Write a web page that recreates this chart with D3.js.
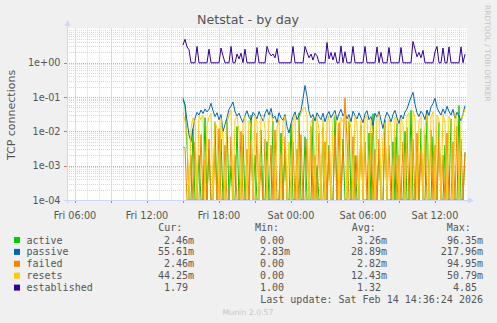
<!DOCTYPE html>
<html><head><meta charset="utf-8">
<script src="https://cdn.jsdelivr.net/npm/d3@7"></script>
<style>
html,body{margin:0;padding:0;background:#F0F0F0;}
svg{display:block;}
text{font-family:"DejaVu Sans",sans-serif;fill:#555;}
.mono{font-family:"DejaVu Sans Mono",monospace;}
</style></head><body>
<svg id="c" width="497" height="323"></svg>
<script>
// ---- data ----
const seriesNames = ["active", "passive", "failed", "resets", "established"];
const seriesColors = ["#00CC00", "#0066B3", "#FF8000", "#FFCC00", "#330099"];
const startTime = new Date(2026, 1, 13, 15, 0); // first sample, Fri 15:00
const stepMinutes = 10;
// values in milli-connections (m)
const activeM = [96.35,60,4,0,0,12,0,0,2,0, 0,25,0,3,0,0,18,0,0,6, 0,0,22,0,1,0,0,14,0,0,
  8,0,0,0,30,0,2,0,0,11, 0,0,5,0,0,20,0,0,0,9, 0,3,0,0,16,0,0,0,35,0, 0,7,0,0,0,24,0,1,0,0,
  13,0,0,4,0,0,28,0,0,0, 6,0,0,19,0,0,2,0,0,15, 0,0,0,9,0,33,0,0,3,0, 0,21,0,0,0,5,0,17,0,0,
  0,10,0,0,41,0,0,2,0,12, 0,0,40,0,0,7,0,0,18,0, 0,4,0,0,23,0,0,0,57,0, 0,2.46];
const passiveM = [85,58,20,8,5,12,24,36,30,42, 33,45,37,44,66,40,27,35,22,31, 10,16,25,44,55,72,38,28,34,24,
  18,29,40,26,21,36,30,23,38,27, 20,33,44,30,47,24,28,18,35,25, 21,31,14,9,17,27,37,22,29,41,
  90,217.96,105,38,25,31,20,35,27,22, 34,19,30,38,25,32,41,21,33,44, 28,36,23,31,19,39,29,23,35,25,
  18,32,40,22,27,15,34,26,38,21, 12,24,36,28,19,31,41,25,17,30, 23,37,45,68,100,138,62,35,27,39,
  32,22,42,29,52,65,92,50,37,30, 45,33,54,38,30,44,24,36,28,20, 32,55.61];
const failedM = [3.4,3.4,0,0,2,0,5,0,0,8, 0,1.5,0,6,0,0,3,0,12,0, 0,4,0,0,7,0,2,0,0,10,
  0,0,3,0,5,0,0,9,0,1, 0,6,0,0,4,0,11,0,0,2, 0,7,0,0,0,5,0,3,0,8, 0,0,6,0,14,0,2,0,9,0,
  0,5,0,3,0,0,8,0,18,0, 4,94.95,6,0,0,7,0,2,0,12, 0,5,0,0,9,0,3,0,6,0, 0,10,0,4,0,0,7,0,2,0,
  5,0,13,0,0,6,0,9,0,3, 0,8,0,0,11,0,4,0,7,0, 2,0,9,0,0,5,0,14,0,6, 0,2.46];
const resetsM = [35,20,8,0,12,25,18,0,28,22, 30,0,15,26,33,0,20,12,0,24, 6,0,18,30,42,0,22,28,9,0,
  16,27,0,21,14,0,29,19,0,25, 31,12,0,26,35,18,0,13,22,0, 17,28,0,5,0,20,30,0,24,33,
  45,50.79,28,0,19,24,0,27,11,0, 23,0,18,29,0,22,31,14,0,26, 19,34,0,25,12,0,28,17,0,22,
  0,24,30,0,21,8,0,26,32,0, 7,18,0,23,15,0,27,20,0,24, 16,0,29,35,0,40,25,0,20,27,
  0,14,31,0,26,38,0,30,22,0, 33,18,0,27,21,0,35,24,0,19, 30,44.25];
const established = [3.3,4.85,2.9,2.4,1,1,1,3.0,1,1, 1,1,1,2.5,1,1,1,1,1,2.7, 1.6,1,1,1,3.0,1,1,1.8,1.3,1.9,
  1,2.5,1,1,1,1,1,2.8,1,1, 1,1,3.0,2.0,1.6,1.8,1.4,2.6,1,1, 1,1,1,1,1,3.0,1,1,1,1,
  1,3.0,2.0,1.4,1.8,1.2,1.9,1.6,1,1, 1,1,3.9,1.3,2.0,1.2,2.0,1,1,3.1, 1,2.1,1,1,1,3.0,1,1,1,1,
  1,3.0,1,1,1,1,1,2.9,1,2.0, 1,1,1,2.8,1,1,1,1,1,2.8, 1,1,1,1,1,4.2,2.5,1.5,2.0,1.4,
  2.3,1,1,1,1,1,2.1,3.0,1,1, 2.7,1,1,2.9,1,1,1,1,1,2.9, 1,1.79];
const yTickValues = [1, 0.1, 0.01, 0.001, 0.0001];
const yTickLabels = ["1e+00", "1e-01", "1e-02", "1e-03", "1e-04"];
const xTickTimes = [new Date(2026,1,13,6), new Date(2026,1,13,12), new Date(2026,1,13,18),
  new Date(2026,1,14,0), new Date(2026,1,14,6), new Date(2026,1,14,12)];
const xTickLabels = ["Fri 06:00", "Fri 12:00", "Fri 18:00", "Sat 00:00", "Sat 06:00", "Sat 12:00"];
const legendHeaders = ["Cur:", "Min:", "Avg:", "Max:"];
const curVals = ["2.46m", "55.61m", "2.46m", "44.25m", "1.79"];
const minVals = ["0.00", "2.83m", "0.00", "0.00", "1.00"];
const avgVals = ["3.26m", "28.89m", "2.82m", "12.43m", "1.32"];
const maxVals = ["96.35m", "217.96m", "94.95m", "50.79m", "4.85"];
const titleText = "Netstat - by day";
const yLabelText = "TCP connections";
const lastUpdate = "Last update: Sat Feb 14 14:36:24 2026";
const footer = "Munin 2.0.57";
const watermark = "RRDTOOL / TOBI OETIKER";

// ---- layout ----
const L = 67, R = 467, T = 28.5, B = 200;
const svg = d3.select("#c");
const x = d3.scaleTime().domain([new Date(2026,1,13,5,20), new Date(2026,1,14,14,40)]).range([L, R]);
const y = d3.scaleLog().domain([1e-4, 10]).range([B, T]).clamp(true);

svg.append("rect").attr("x", L).attr("y", T).attr("width", R - L).attr("height", B - T).attr("fill", "#fff");

// grid
const g = svg.append("g");
const hours = d3.timeHour.range(x.domain()[0], x.domain()[1]);
hours.forEach(h => {
  const px = Math.round(x(h)) + 0.5;
  const major = h.getHours() % 3 === 0;
  g.append("line").attr("x1", px).attr("x2", px).attr("y1", T).attr("y2", B)
    .attr("stroke", major ? "#e8a0a0" : "#d6d6d6").attr("stroke-dasharray", "1,1");
  if (major) g.append("line").attr("x1", px).attr("x2", px).attr("y1", B).attr("y2", B + 3).attr("stroke", "#e07070");
});
for (let d = -4; d <= 0; d++) {
  for (let k = 1; k <= 9; k++) {
    const v = k * Math.pow(10, d);
    const py = Math.round(y(v)) + 0.5;
    if (py < T) continue;
    g.append("line").attr("x1", L).attr("x2", R).attr("y1", py).attr("y2", py)
      .attr("stroke", k === 1 ? "#e8a0a0" : "#d6d6d6").attr("stroke-dasharray", "1,1");
    if (k === 1) g.append("line").attr("x1", L - 3).attr("x2", L).attr("y1", py).attr("y2", py).attr("stroke", "#e07070");
  }
}

// series
const times = activeM.map((_, i) => d3.timeMinute.offset(startTime, i * stepMinutes));
const seriesData = [activeM.map(v => v / 1000), passiveM.map(v => v / 1000), failedM.map(v => v / 1000),
  resetsM.map(v => v / 1000), established];
svg.append("clipPath").attr("id", "clip").append("rect").attr("x", L).attr("y", T - 2).attr("width", R - L + 1).attr("height", B - T + 3);
const line = d3.line().x((d, i) => x(times[i])).y(d => y(d > 0 ? d : 1e-9));
const lg = svg.append("g").attr("clip-path", "url(#clip)");
seriesData.forEach((s, k) => {
  lg.append("path").datum(s).attr("d", line).attr("fill", "none")
    .attr("stroke", seriesColors[k]).attr("stroke-width", 1);
});

// axes
const axisColor = "#CFD6F8";
svg.append("line").attr("x1", L + 0.5).attr("x2", L + 0.5).attr("y1", B + 3).attr("y2", 25).attr("stroke", axisColor);
svg.append("line").attr("x1", L - 3).attr("x2", 469).attr("y1", B + 0.5).attr("y2", B + 0.5).attr("stroke", axisColor);
svg.append("path").attr("d", "M64.5,26 L70.5,26 L67.5,20 Z").attr("fill", axisColor);
svg.append("path").attr("d", "M468,197.5 L468,203.5 L474,200.5 Z").attr("fill", axisColor);

// tick labels
yTickValues.forEach((v, i) => {
  svg.append("text").attr("x", 60.5).attr("y", y(v) + 3.5).attr("text-anchor", "end")
    .attr("font-size", "9.7px").text(yTickLabels[i]);
});
xTickTimes.forEach((t, i) => {
  svg.append("text").attr("x", x(t)).attr("y", 219).attr("text-anchor", "middle")
    .attr("font-size", "9.7px").text(xTickLabels[i]);
});

// titles
svg.append("text").attr("x", 248).attr("y", 24).attr("text-anchor", "middle").attr("font-size", "12.7px").text(titleText);
svg.append("text").attr("transform", "translate(15,115) rotate(-90)").attr("text-anchor", "middle")
  .attr("font-size", "11px").text(yLabelText);
svg.append("text").attr("transform", "translate(484.5,5) rotate(90)").attr("text-anchor", "start")
  .attr("font-size", "7.5px").style("fill", "#c4c4c4").text(watermark);

// legend
const cw = 6.02;
const headerX = [158.3, 255, 351.7, 446.7];
legendHeaders.forEach((h, i) => {
  svg.append("text").attr("class", "mono").attr("x", headerX[i]).attr("y", 230.8).attr("font-size", "10px").text(h);
});
const colRight = [194, 290, 387, 483];
const cols = [curVals, minVals, avgVals, maxVals];
seriesNames.forEach((n, r) => {
  const cy = 240 + r * 11.9;
  svg.append("rect").attr("x", 14).attr("y", cy - 3).attr("width", 6).attr("height", 6).attr("fill", seriesColors[r]);
  svg.append("text").attr("class", "mono").attr("x", 26.5).attr("y", cy + 3.5).attr("font-size", "10px").text(n);
  cols.forEach((c, ci) => {
    const s = c[r];
    const rx = s.endsWith("m") ? colRight[ci] : colRight[ci] - cw;
    svg.append("text").attr("class", "mono").attr("x", rx).attr("y", cy + 3.5).attr("text-anchor", "end")
      .attr("font-size", "10px").text(s);
  });
});
svg.append("text").attr("class", "mono").attr("x", 483).attr("y", 302.8).attr("text-anchor", "end")
  .attr("font-size", "10px").text(lastUpdate);
svg.append("text").attr("x", 248).attr("y", 314.5).attr("text-anchor", "middle").attr("font-size", "7.8px")
  .style("fill", "#c8c8c8").text(footer);
</script>
</body></html>
